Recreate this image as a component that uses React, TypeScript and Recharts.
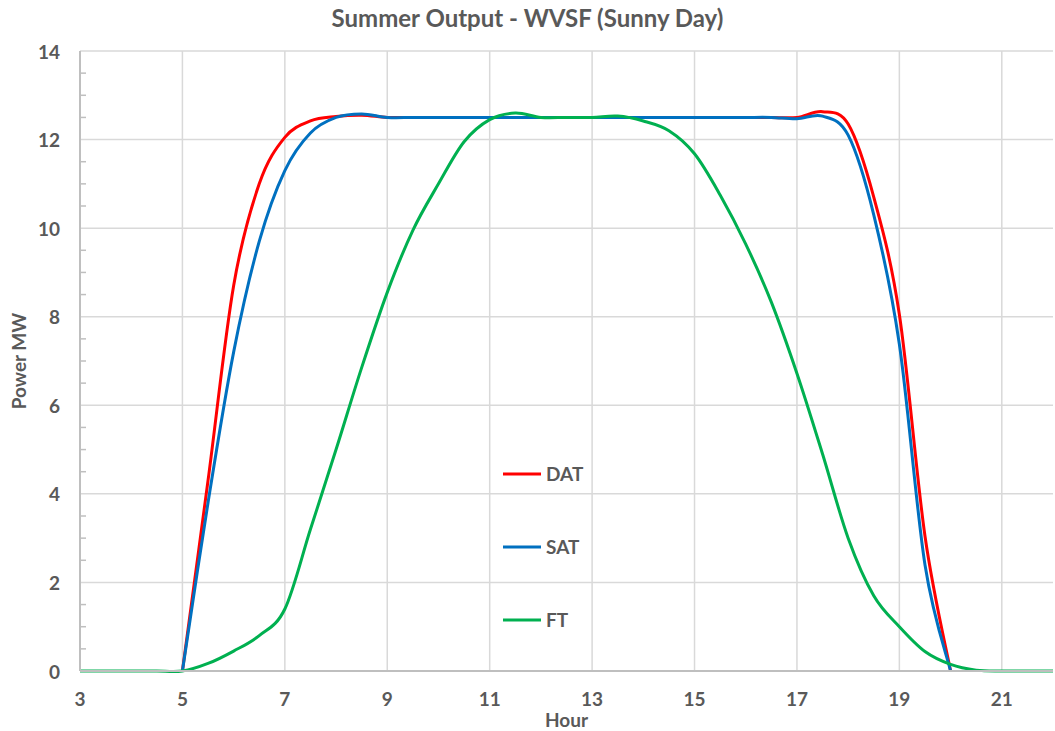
import React from "react";
import { CartesianGrid, Line, LineChart, XAxis, YAxis } from "recharts";

const hours = [
  3, 3.5, 4, 4.5, 5, 5.5, 6, 6.5, 7, 7.5, 8, 8.5, 9, 9.5, 10, 10.5, 11, 11.5,
  12, 12.5, 13, 13.5, 14, 14.5, 15, 15.5, 16, 16.5, 17, 17.5, 18, 18.5, 19,
  19.5, 20, 20.5, 21, 21.5, 22,
];

// DAT and SAT only run from 5h to 20h
const dat = [
  null, null, null, null, 0, 4.3, 8.7, 11.0, 12.05, 12.42, 12.52, 12.55, 12.5,
  12.5, 12.5, 12.5, 12.5, 12.5, 12.5, 12.5, 12.5, 12.5, 12.5, 12.5, 12.5, 12.5,
  12.5, 12.5, 12.5, 12.63, 12.35, 10.7, 8.05, 3.05, 0, null, null, null, null,
];

const sat = [
  null, null, null, null, 0, 3.8, 7.2, 9.7, 11.3, 12.15, 12.5, 12.58, 12.5,
  12.5, 12.5, 12.5, 12.5, 12.5, 12.5, 12.5, 12.5, 12.5, 12.5, 12.5, 12.5, 12.5,
  12.5, 12.5, 12.47, 12.53, 12.1, 10.3, 7.38, 2.4, 0, null, null, null, null,
];

const ft = [
  0, 0, 0, 0, 0, 0.17, 0.45, 0.8, 1.4, 3.2, 5.0, 6.85, 8.55, 9.95, 11.0, 11.95,
  12.45, 12.6, 12.5, 12.5, 12.5, 12.53, 12.42, 12.2, 11.68, 10.75, 9.64, 8.33,
  6.72, 4.9, 3.0, 1.7, 1.0, 0.44, 0.15, 0.02, 0, 0, 0,
];

const xTicks = [3, 5, 7, 9, 11, 13, 15, 17, 19, 21];
const yMajor = [0, 2, 4, 6, 8, 10, 12, 14];
const yTicks = [
  0, 0.5, 1, 1.5, 2, 2.5, 3, 3.5, 4, 4.5, 5, 5.5, 6, 6.5, 7, 7.5, 8, 8.5, 9,
  9.5, 10, 10.5, 11, 11.5, 12, 12.5, 13, 13.5, 14,
];

const series = [
  { key: "DAT", color: "#ff0000" },
  { key: "SAT", color: "#0070c0" },
  { key: "FT", color: "#00b050" },
];

const data = hours.map((h, i) => ({
  hour: h,
  DAT: dat[i],
  SAT: sat[i],
  FT: ft[i],
}));

const FONT = "Lato, 'Liberation Sans', sans-serif";
const TEXT = "#595959";
const Y_TICK_MARGIN = 20;

// Excel-like smoothed line (Catmull-Rom through every point)
function smoothCurve(context: any) {
  let xs: number[] = [];
  let ys: number[] = [];
  return {
    areaStart() {},
    areaEnd() {},
    lineStart() {
      xs = [];
      ys = [];
    },
    point(x: number, y: number) {
      xs.push(+x);
      ys.push(+y);
    },
    lineEnd() {
      const n = xs.length;
      if (!n) return;
      context.moveTo(xs[0], ys[0]);
      if (n === 2) context.lineTo(xs[1], ys[1]);
      if (n < 3) return;
      for (let i = 0; i < n - 1; i++) {
        const a = Math.max(i - 1, 0);
        const d = Math.min(i + 2, n - 1);
        context.bezierCurveTo(
          xs[i] + (xs[i + 1] - xs[a]) / 6,
          ys[i] + (ys[i + 1] - ys[a]) / 6,
          xs[i + 1] - (xs[d] - xs[i]) / 6,
          ys[i + 1] - (ys[d] - ys[i]) / 6,
          xs[i + 1],
          ys[i + 1]
        );
      }
    },
  };
}

function YTick(props: any) {
  const { x, y, payload } = props;
  const v = payload.value;
  if (v % 2 === 0) {
    return (
      <text
        x={x}
        y={y}
        textAnchor="end"
        dominantBaseline="central"
        fill={TEXT}
        fontSize={19}
        fontWeight={700}
        fontFamily={FONT}
      >
        {v}
      </text>
    );
  }
  const axisX = x + Y_TICK_MARGIN;
  return (
    <line x1={axisX} x2={axisX + 6} y1={y} y2={y} stroke="#bfbfbf" strokeWidth={1.5} />
  );
}

function LegendBox() {
  return (
    <div style={{ position: "absolute", left: 503, top: 437, fontFamily: FONT }}>
      {series.map((s) => (
        <div key={s.key} style={{ height: 73, display: "flex", alignItems: "center" }}>
          <svg width={40} height={4} style={{ marginRight: 3 }}>
            <line x1={0} x2={38} y1={2} y2={2} stroke={s.color} strokeWidth={3} />
          </svg>
          <span style={{ color: TEXT, fontSize: 19, fontWeight: 700 }}>{s.key}</span>
        </div>
      ))}
    </div>
  );
}

export default function App() {
  return (
    <div style={{ position: "relative", width: 1055, height: 731, background: "#fff" }}>
      <style>{"body{margin:0}"}</style>
      <div
        style={{
          position: "absolute",
          top: 3,
          left: 0,
          width: 1055,
          textAlign: "center",
          fontFamily: FONT,
          fontWeight: 700,
          fontSize: 24,
          color: TEXT,
        }}
      >
        Summer Output - WVSF (Sunny Day)
      </div>
      <LineChart
        width={1055}
        height={731}
        data={data}
        margin={{ top: 51, right: 2, left: 0, bottom: 0 }}
      >
        <CartesianGrid
          stroke="#d9d9d9"
          strokeWidth={1.5}
          horizontalValues={yMajor}
          verticalValues={xTicks}
        />
        <XAxis
          dataKey="hour"
          type="number"
          domain={[3, 22]}
          ticks={xTicks}
          interval={0}
          height={60}
          tickSize={0}
          tickMargin={22}
          axisLine={{ stroke: "#bfbfbf", strokeWidth: 2 }}
          tick={{ fill: TEXT, fontSize: 19, fontWeight: 700, fontFamily: FONT }}
          label={{
            content: (p: any) => (
              <text
                x={p.viewBox.x + p.viewBox.width / 2}
                y={p.viewBox.y + 56}
                textAnchor="middle"
                fill={TEXT}
                fontSize={19}
                fontWeight={700}
                fontFamily={FONT}
              >
                Hour
              </text>
            ),
          }}
        />
        <YAxis
          type="number"
          domain={[0, 14]}
          ticks={yTicks}
          interval={0}
          width={80}
          tickSize={0}
          tickMargin={Y_TICK_MARGIN}
          axisLine={{ stroke: "#bfbfbf", strokeWidth: 2 }}
          tick={<YTick />}
          label={{
            content: (p: any) => {
              const cx = p.viewBox.x + 18;
              const cy = p.viewBox.y + p.viewBox.height / 2;
              return (
                <text
                  x={cx}
                  y={cy}
                  transform={`rotate(-90 ${cx} ${cy})`}
                  textAnchor="middle"
                  dominantBaseline="central"
                  fill={TEXT}
                  fontSize={19}
                  fontWeight={700}
                  fontFamily={FONT}
                >
                  Power MW
                </text>
              );
            },
          }}
        />
        {series.map((s) => (
          <Line
            key={s.key}
            type={smoothCurve as any}
            dataKey={s.key}
            stroke={s.color}
            strokeWidth={3}
            dot={false}
            activeDot={false}
            isAnimationActive={false}
          />
        ))}
      </LineChart>
      <LegendBox />
    </div>
  );
}
